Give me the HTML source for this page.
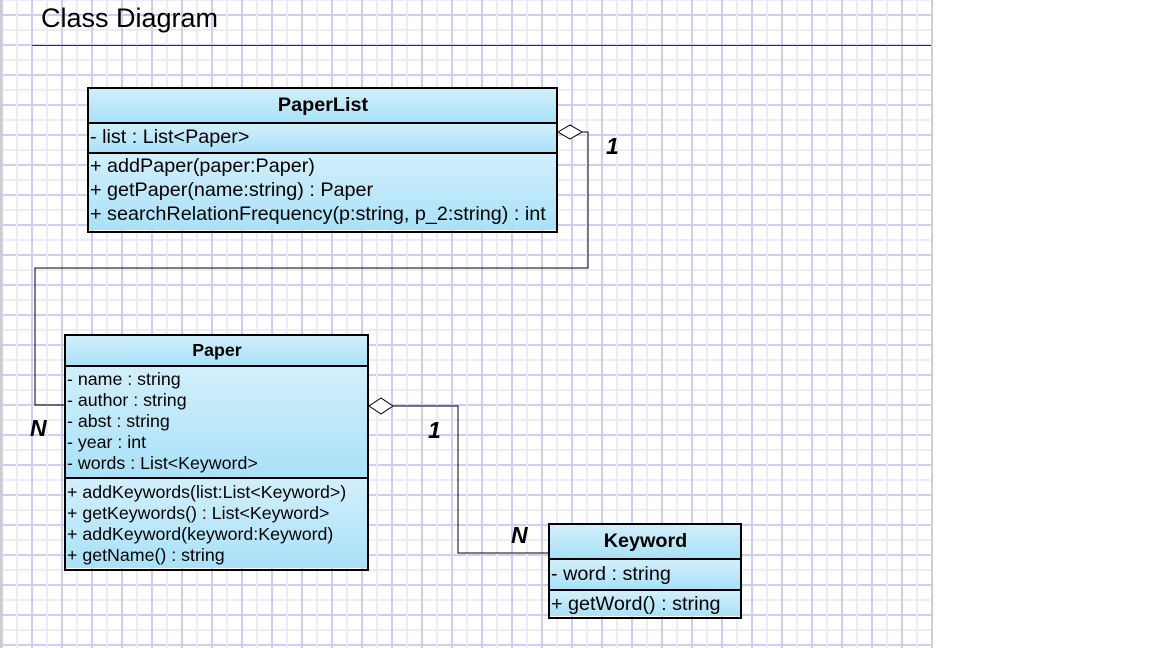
<!DOCTYPE html>
<html><head><style>
body{margin:0;width:1152px;height:648px;position:relative;background:#fff;font-family:"Liberation Sans",sans-serif;overflow:hidden}
.grid{position:absolute;left:0;top:0;width:931px;height:648px;
background-image:linear-gradient(to right,#cfcdf3 2px,transparent 2px),linear-gradient(to right,#ebebf9 2px,transparent 2px),linear-gradient(to bottom,#cfcdf3 2px,transparent 2px),linear-gradient(to bottom,#ebebf9 2px,transparent 2px);
background-size:30px 30px,30px 30px,30px 30px,30px 30px;background-position:0 0,15px 0,0 14px,0 -1px;border-right:1px solid #ccc;border-left:1px solid #ccc}
.box{position:absolute;border:2.5px solid #000;box-sizing:border-box}
.sec{background:linear-gradient(#d2effb,#a9e1f8);border-top:2.5px solid #000;box-sizing:border-box;padding-left:1px;color:#000;white-space:nowrap}
.sec:first-child{border-top:none}
.h{text-align:center;font-weight:bold}
.t{position:absolute;font-weight:bold;font-style:italic;font-size:23px}
</style></head><body>
<div class="grid"></div>
<div style="position:absolute;left:41px;top:3px;font-size:27px">Class Diagram</div>
<div style="position:absolute;left:32px;top:45px;width:899px;height:1px;background:#333"></div>

<svg width="1152" height="648" style="position:absolute;left:0;top:0">
<g fill="none" stroke="#000" stroke-width="1">
<polyline points="582,132 588,132 588,268 35,268 35,405 65,405"/>
<polygon points="558,132 570,125 582,132 570,139" fill="#fff"/>
<polyline points="393,406 458,406 458,553 549,553"/>
<polygon points="369,406 381,398 393,406 381,414" fill="#fff"/>
</g></svg>
<div class="t" style="left:606px;top:133px">1</div>
<div class="t" style="left:30px;top:415px">N</div>
<div class="t" style="left:428px;top:417px">1</div>
<div class="t" style="left:511px;top:522px">N</div>

<div class="box" style="left:87px;top:87px;width:471px;height:146px;font-size:19.8px">
<div class="sec h" style="height:33px;line-height:33px">PaperList</div>
<div class="sec" style="height:30px;line-height:26px">- list : List&lt;Paper&gt;</div>
<div class="sec" style="height:78px;line-height:24px;padding-top:0px">+ addPaper(paper:Paper)<br>+ getPaper(name:string) : Paper<br>+ searchRelationFrequency(p:string, p_2:string) : int</div>
</div>

<div class="box" style="left:64px;top:334px;width:305px;height:237px;font-size:17.8px">
<div class="sec h" style="height:29px;line-height:28px">Paper</div>
<div class="sec" style="height:112px;line-height:21px;padding-top:2px">- name : string<br>- author : string<br>- abst : string<br>- year : int<br>- words : List&lt;Keyword&gt;</div>
<div class="sec" style="height:91px;line-height:21px;padding-top:3px">+ addKeywords(list:List&lt;Keyword&gt;)<br>+ getKeywords() : List&lt;Keyword&gt;<br>+ addKeyword(keyword:Keyword)<br>+ getName() : string</div>
</div>

<div class="box" style="left:548px;top:523px;width:194px;height:96px;font-size:19.8px">
<div class="sec h" style="height:33px;line-height:33px">Keyword</div>
<div class="sec" style="height:31px;line-height:28px">- word : string</div>
<div class="sec" style="height:27px;line-height:26px">+ getWord() : string</div>
</div>
</body></html>
